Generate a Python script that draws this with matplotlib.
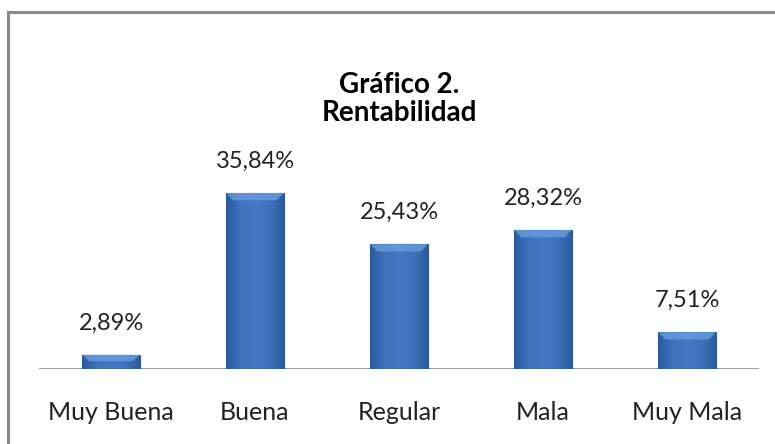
import matplotlib
matplotlib.use("Agg")
import matplotlib.pyplot as plt
import numpy as np
from matplotlib.patches import Polygon
from matplotlib.colors import LinearSegmentedColormap

categories = ["Muy Buena", "Buena", "Regular", "Mala", "Muy Mala"]
values = [2.89, 35.84, 25.43, 28.32, 7.51]
labels = ["2,89%", "35,84%", "25,43%", "28,32%", "7,51%"]
title = "Gráfico 2.\nRentabilidad"

W, H = 775, 444
fig = plt.figure(figsize=(W / 100, H / 100), dpi=100)
fig.patch.set_facecolor("white")

# frame (top and left visible)
fig.add_artist(plt.Line2D([8 / W, 8 / W], [0, 1 - 12 / H], color="#8a8a8a", lw=2.2))
fig.add_artist(plt.Line2D([8 / W, 1], [1 - 12 / H, 1 - 12 / H], color="#8a8a8a", lw=2.2))

base_y = 369
px_per_unit = 4.91
ymax = 40
ax_h = ymax * px_per_unit
ax = fig.add_axes([39 / W, (H - base_y) / H, 720 / W, ax_h / H])
ax.set_xlim(-0.5, len(categories) - 0.5)
ax.set_ylim(0, ymax)
ax.axis("off")
ax.axhline(0, color="#8c8c8c", lw=1.2, zorder=1)

x = np.arange(len(categories))
bars = ax.bar(x, values, width=0.4, color="#3a6db6", edgecolor="#2b5796", linewidth=0.8, zorder=2)

# horizontal gradient for a bevelled look
cmap = LinearSegmentedColormap.from_list("bev", ["#2c5a9c", "#3d72bd", "#4379c4", "#3d72bd", "#2c5a9c"])
grad = np.linspace(0, 1, 256).reshape(1, -1)
for b in bars:
    x0, w, h = b.get_x(), b.get_width(), b.get_height()
    im = ax.imshow(grad, extent=[x0, x0 + w, 0, h], aspect="auto", cmap=cmap, zorder=2.5)
    im.set_clip_path(b)
    # top bevel (trapezoid)
    th = min(h * 0.45, 1.5)
    ins = w * 0.12
    ax.add_patch(Polygon([(x0, h), (x0 + w, h), (x0 + w - ins, h - th), (x0 + ins, h - th)],
                         closed=True, color="#6b9fe2", alpha=0.75, lw=0, zorder=3))

for xi, v, lab in zip(x, values, labels):
    ax.text(xi, v + 4.3, lab, ha="center", va="bottom", fontsize=17, family="Lato", color="#222222")

for xi, c in zip(x, categories):
    fig.text((39 + (xi + 0.5) * 144) / W, 1 - 412 / H, c, ha="center", va="center",
             fontsize=18, family="Lato", color="#222222")

fig.text(399 / W, 1 - 99 / H, title, ha="center", va="center", fontsize=20, family="Lato",
         fontweight="bold", linespacing=1.1, color="black")

fig.savefig("out.png", dpi=100, facecolor="white")
